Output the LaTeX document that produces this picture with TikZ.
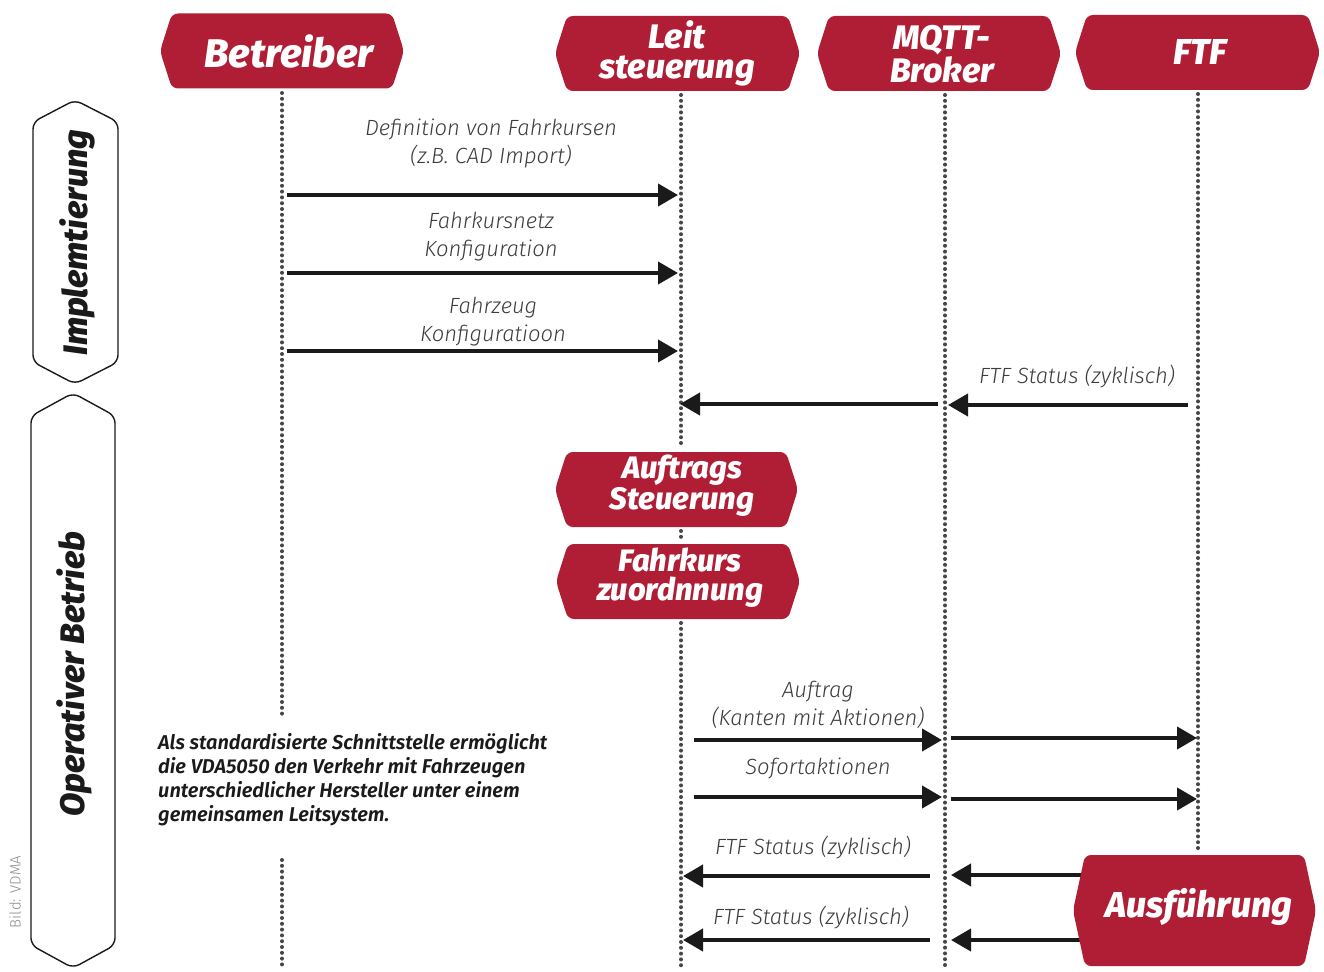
\documentclass[tikz,border=0pt]{standalone}
\usepackage{fontspec}
\setmainfont{Fira Sans}
\newfontfamily\hdrfont{Fira Sans ExtraBold Italic}
\newfontfamily\lblfont{Fira Sans Light Italic}
\newfontfamily\txtfont{Fira Sans SemiBold Italic}
\newfontfamily\thinfont{Fira Sans Light}
\usetikzlibrary{arrows.meta,calc}
\definecolor{hexred}{RGB}{176,30,54}
\definecolor{dotgray}{RGB}{70,70,70}
\definecolor{arrowblack}{RGB}{26,26,26}
\definecolor{lblgray}{RGB}{60,60,60}
\newcommand\hexfill[4]{%
  \fill[hexred, rounded corners=6pt] (#1-#3/2,#2) -- (#1-#3/2+12,#2-#4/2) -- (#1+#3/2-12,#2-#4/2) -- (#1+#3/2,#2) -- (#1+#3/2-12,#2+#4/2) -- (#1-#3/2+12,#2+#4/2) -- cycle;}
\begin{document}
\begin{tikzpicture}[x=1pt,y=-1pt,
  hdr/.style={text=white, font=\hdrfont\fontsize{34}{30}\selectfont, align=center, inner sep=0pt},
  lifeline/.style={draw=dotgray, line width=4pt, line cap=round, dash pattern=on 0pt off 5.8pt},
  msg/.style={draw=arrowblack, line width=4pt, -{Triangle[length=20pt,width=22pt]}},
  lbl/.style={font=\lblfont\fontsize{22}{28}\selectfont, text=lblgray, align=center, inner sep=0pt},
  phase/.style={draw=arrowblack, line width=1.4pt, rounded corners=7pt, fill=white},
  phasetxt/.style={font=\hdrfont\fontsize{34}{34}\selectfont, text=arrowblack, rotate=90, inner sep=0pt}
]
\useasboundingbox (0,0) rectangle (1324,971);

% lifeline coordinates
\coordinate (Btop) at (282,93);
\coordinate (Bbrk1) at (282,716);
\coordinate (Bbrk2) at (282,860);
\coordinate (Bbot) at (282,969);
\coordinate (Ltop) at (681,95);
\coordinate (La1) at (681,448);
\coordinate (La2) at (681,531);
\coordinate (La3) at (681,540);
\coordinate (La4) at (681,623);
\coordinate (Lbot) at (681,969);
\coordinate (Mtop) at (945,95);
\coordinate (Mbot) at (945,969);
\coordinate (Ftop) at (1198,94);
\coordinate (Fa1) at (1198,851);
\coordinate (Fbot) at (1198,969);

\draw[lifeline] (Btop) -- (Bbrk1);
\draw[lifeline] (Bbrk2) -- (Bbot);
\draw[lifeline] (Ltop) -- (La1);
\draw[lifeline] (La2) -- (La3);
\draw[lifeline] (La4) -- (Lbot);
\draw[lifeline] (Mtop) -- (Mbot);
\draw[lifeline] (Ftop) -- (Fa1);

% headers
\hexfill{282}{51}{244}{75}
\node[hdr, font=\hdrfont\fontsize{40}{40}\selectfont] (betreiber) at (289,51) {Betreiber};
\hexfill{677.5}{53.5}{245}{75}
\node[hdr] (leit) at (677,53) {Leit\\steuerung};
\hexfill{939}{53.5}{244}{75}
\node[hdr] (mqtt) at (942,54) {MQTT-\\Broker};
\hexfill{1197.5}{52.5}{245}{75}
\node[hdr, font=\hdrfont\fontsize{36}{36}\selectfont] (ftf) at (1200,52) {FTF};

% phase boxes
\draw[phase] (75,100) -- (118,122) -- (118,362) -- (75,384) -- (33,362) -- (33,122) -- cycle;
\node[phasetxt] (impl) at (77,243) {Implemtierung};
\draw[phase] (73,393) -- (115,416) -- (115,945) -- (73,968) -- (31,945) -- (31,416) -- cycle;
\node[phasetxt] (oper) at (74,674) {Operativer Betrieb};
\node[font=\thinfont\fontsize{15}{15}\selectfont, text=black!45, rotate=90, inner sep=0pt] (bild) at (15,892) {Bild: VDMA};

% implementation messages
\coordinate (a1s) at (287,195); \coordinate (a1e) at (678,195);
\coordinate (a2s) at (287,273); \coordinate (a2e) at (678,273);
\coordinate (a3s) at (287,351); \coordinate (a3e) at (678,351);
\draw[msg] (a1s) -- (a1e);
\draw[msg] (a2s) -- (a2e);
\draw[msg] (a3s) -- (a3e);
\node[lbl] (l1) at (491,143) {Definition von Fahrkursen\\(z.B. CAD Import)};
\node[lbl] (l2) at (491,237) {Fahrkursnetz\\Konfiguration};
\node[lbl] (l3) at (493,322) {Fahrzeug\\Konfiguratioon};

% status
\coordinate (s1s) at (1188,405); \coordinate (s1e) at (948,405);
\coordinate (s2s) at (938,404); \coordinate (s2e) at (680,404);
\draw[msg] (s1s) -- (s1e);
\draw[msg] (s2s) -- (s2e);
\node[lbl] (l4) at (1077,377) {FTF Status (zyklisch)};

% Auftrags steuerung boxes
\hexfill{676.5}{489.5}{243}{75}
\node[hdr, font=\hdrfont\fontsize{31}{31}\selectfont] (auftr) at (682,486) {Auftrags\\Steuerung};
\hexfill{678}{581.5}{244}{75}
\node[hdr, font=\hdrfont\fontsize{31}{29}\selectfont] (fahrk) at (680,578) {Fahrkurs\\zuordnnung};

% operational messages
\coordinate (o1s) at (694,740); \coordinate (o1e) at (942,740);
\coordinate (o2s) at (951,738); \coordinate (o2e) at (1197,738);
\coordinate (o3s) at (694,797); \coordinate (o3e) at (942,797);
\coordinate (o4s) at (951,799); \coordinate (o4e) at (1197,799);
\draw[msg] (o1s) -- (o1e);
\draw[msg] (o2s) -- (o2e);
\draw[msg] (o3s) -- (o3e);
\draw[msg] (o4s) -- (o4e);
\node[lbl] (l5) at (818,705) {Auftrag\\(Kanten mit Aktionen)};
\node[lbl] (l6) at (818,768) {Sofortaktionen};

\coordinate (r1s) at (1085,875); \coordinate (r1e) at (951,875);
\coordinate (r2s) at (930,876); \coordinate (r2e) at (683,876);
\coordinate (r3s) at (1085,940); \coordinate (r3e) at (951,940);
\coordinate (r4s) at (930,940); \coordinate (r4e) at (683,940);
\draw[msg] (r1s) -- (r1e);
\draw[msg] (r2s) -- (r2e);
\draw[msg] (r3s) -- (r3e);
\draw[msg] (r4s) -- (r4e);
\node[lbl] (l7) at (813,848) {FTF Status (zyklisch)};
\node[lbl] (l8) at (811,918) {FTF Status (zyklisch)};

% Ausfuehrung
\hexfill{1194.5}{910.5}{243}{111}
\node[hdr, font=\hdrfont\fontsize{36}{36}\selectfont] (ausf) at (1199,907) {Ausführung};

% note
\node[font=\txtfont\fontsize{20}{24}\selectfont, text=arrowblack, align=left, anchor=north west, inner sep=0pt] (note) at (158,733) {Als standardisierte Schnittstelle ermöglicht\\die VDA5050 den Verkehr mit Fahrzeugen\\unterschiedlicher Hersteller unter einem\\gemeinsamen Leitsystem.};
\end{tikzpicture}
\end{document}
